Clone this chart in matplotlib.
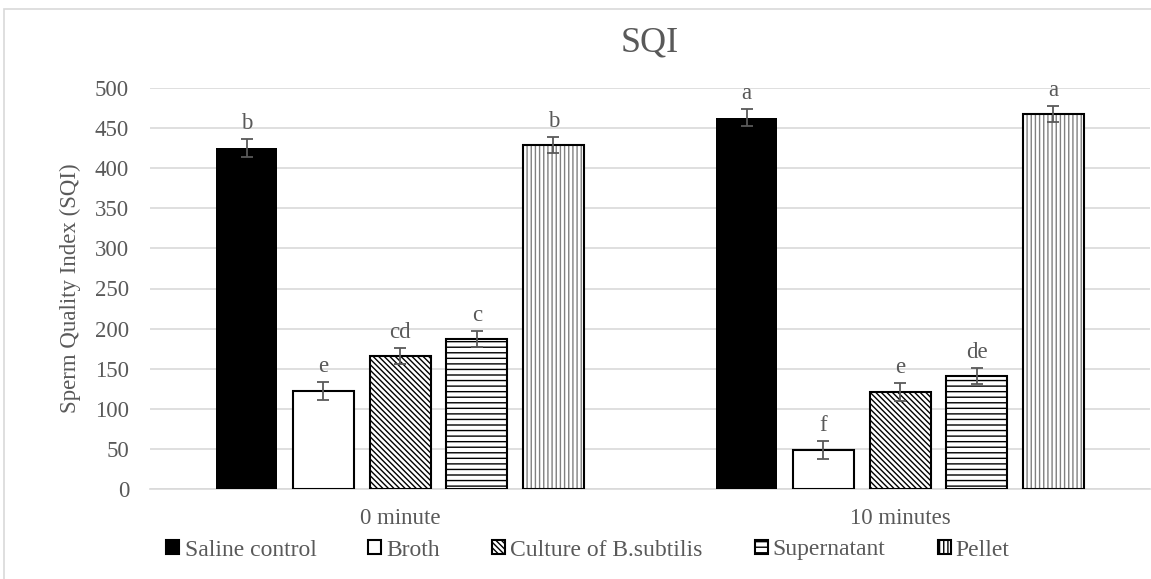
import numpy as np
import matplotlib
matplotlib.use("Agg")
import matplotlib.pyplot as plt
from matplotlib.patches import Rectangle, Patch

plt.rcParams['font.family'] = ['Liberation Serif', 'DejaVu Serif']
plt.rcParams['hatch.linewidth'] = 1.0

times = ["0 minute", "10 minutes"]
groups = ["Saline control", "Broth", "Culture of B.subtilis", "Supernatant", "Pellet"]
sqi = {
    "Saline control": [425, 463],
    "Broth": [122, 49],
    "Culture of B.subtilis": [166, 121],
    "Supernatant": [187, 141],
    "Pellet": [429, 468],
}
err = {
    "Saline control": [11, 11],
    "Broth": [11, 11],
    "Culture of B.subtilis": [10, 11],
    "Supernatant": [10, 10],
    "Pellet": [10, 10],
}
letters = {
    "Saline control": ["b", "a"],
    "Broth": ["e", "f"],
    "Culture of B.subtilis": ["cd", "e"],
    "Supernatant": ["c", "de"],
    "Pellet": ["b", "a"],
}

# fill, hatch, hatch colour
styles = {
    "Saline control": ("black", None, "black"),
    "Broth": ("white", None, "black"),
    "Culture of B.subtilis": ("white", "\\\\\\\\\\\\", "black"),
    "Supernatant": ("white", "---", "black"),
    "Pellet": ("white", "||||", "#808080"),
}

txt = "#595959"
grid = "#d9d9d9"
fs = 16.5

fig = plt.figure(figsize=(11.51, 5.79), dpi=100)
ax = fig.add_axes([150 / 1151, 1 - 489 / 579, 1000 / 1151, (489 - 88) / 579])

# outer chart frame
fig.patches.append(Rectangle((4 / 1151, -0.05), 1.2, 1 - 9 / 579 + 0.05, transform=fig.transFigure,
                             fill=False, edgecolor=grid, linewidth=1.2))

x = np.arange(len(times)) + 0.5
width = 0.122
step = 0.1534
for i, g in enumerate(groups):
    pos = x + (i - 2) * step
    fc, hatch, hc = styles[g]
    if hatch:
        ax.bar(pos, sqi[g], width, color=fc, edgecolor=hc, hatch=hatch, linewidth=0, zorder=2)
        ax.bar(pos, sqi[g], width, fill=False, edgecolor="black", linewidth=1.5, zorder=3)
    else:
        ax.bar(pos, sqi[g], width, color=fc, edgecolor="black", linewidth=1.5 if fc == "white" else 0, zorder=3)
    ax.errorbar(pos, sqi[g], yerr=err[g], fmt="none", ecolor=txt, elinewidth=1.3,
                capsize=4.5, capthick=1.3, zorder=4)
    for p, v, e, l in zip(pos, sqi[g], err[g], letters[g]):
        ax.annotate(l, (p, v + e), xytext=(0, 3.5), textcoords="offset points",
                    ha="center", va="bottom", fontsize=fs, color=txt)

ax.set_xlim(0, 2)
ax.set_ylim(0, 500)
ax.set_yticks(np.arange(0, 501, 50))
ax.set_xticks(x)
ax.set_xticklabels(times)
ax.tick_params(length=0, labelsize=fs, labelcolor=txt)
ax.tick_params(axis="y", pad=15)
ax.tick_params(axis="x", pad=14)
ax.yaxis.grid(True, color=grid, linewidth=1.2)
ax.set_axisbelow(True)
for s in ["top", "right", "left"]:
    ax.spines[s].set_visible(False)
ax.spines["bottom"].set_color(grid)
ax.spines["bottom"].set_linewidth(1.2)

ax.set_ylabel("Sperm Quality Index (SQI)", fontsize=fs, color=txt, labelpad=10)
fig.text(650 / 1151, 1 - 43 / 579, "SQI", fontsize=26, color=txt, ha="center", va="center")

handles = []
for g in groups:
    fc, hatch, hc = styles[g]
    handles.append(Patch(facecolor=fc, edgecolor="black", hatch=hatch, linewidth=1.5))
leg = fig.legend(handles, groups, loc="center", bbox_to_anchor=(588 / 1151, 1 - 550 / 579), ncol=5,
                 frameon=False, fontsize=17, handlelength=0.55, handleheight=0.55,
                 handletextpad=0.22, columnspacing=2.2, labelcolor=txt)

fig.savefig("out.png", dpi=100)
